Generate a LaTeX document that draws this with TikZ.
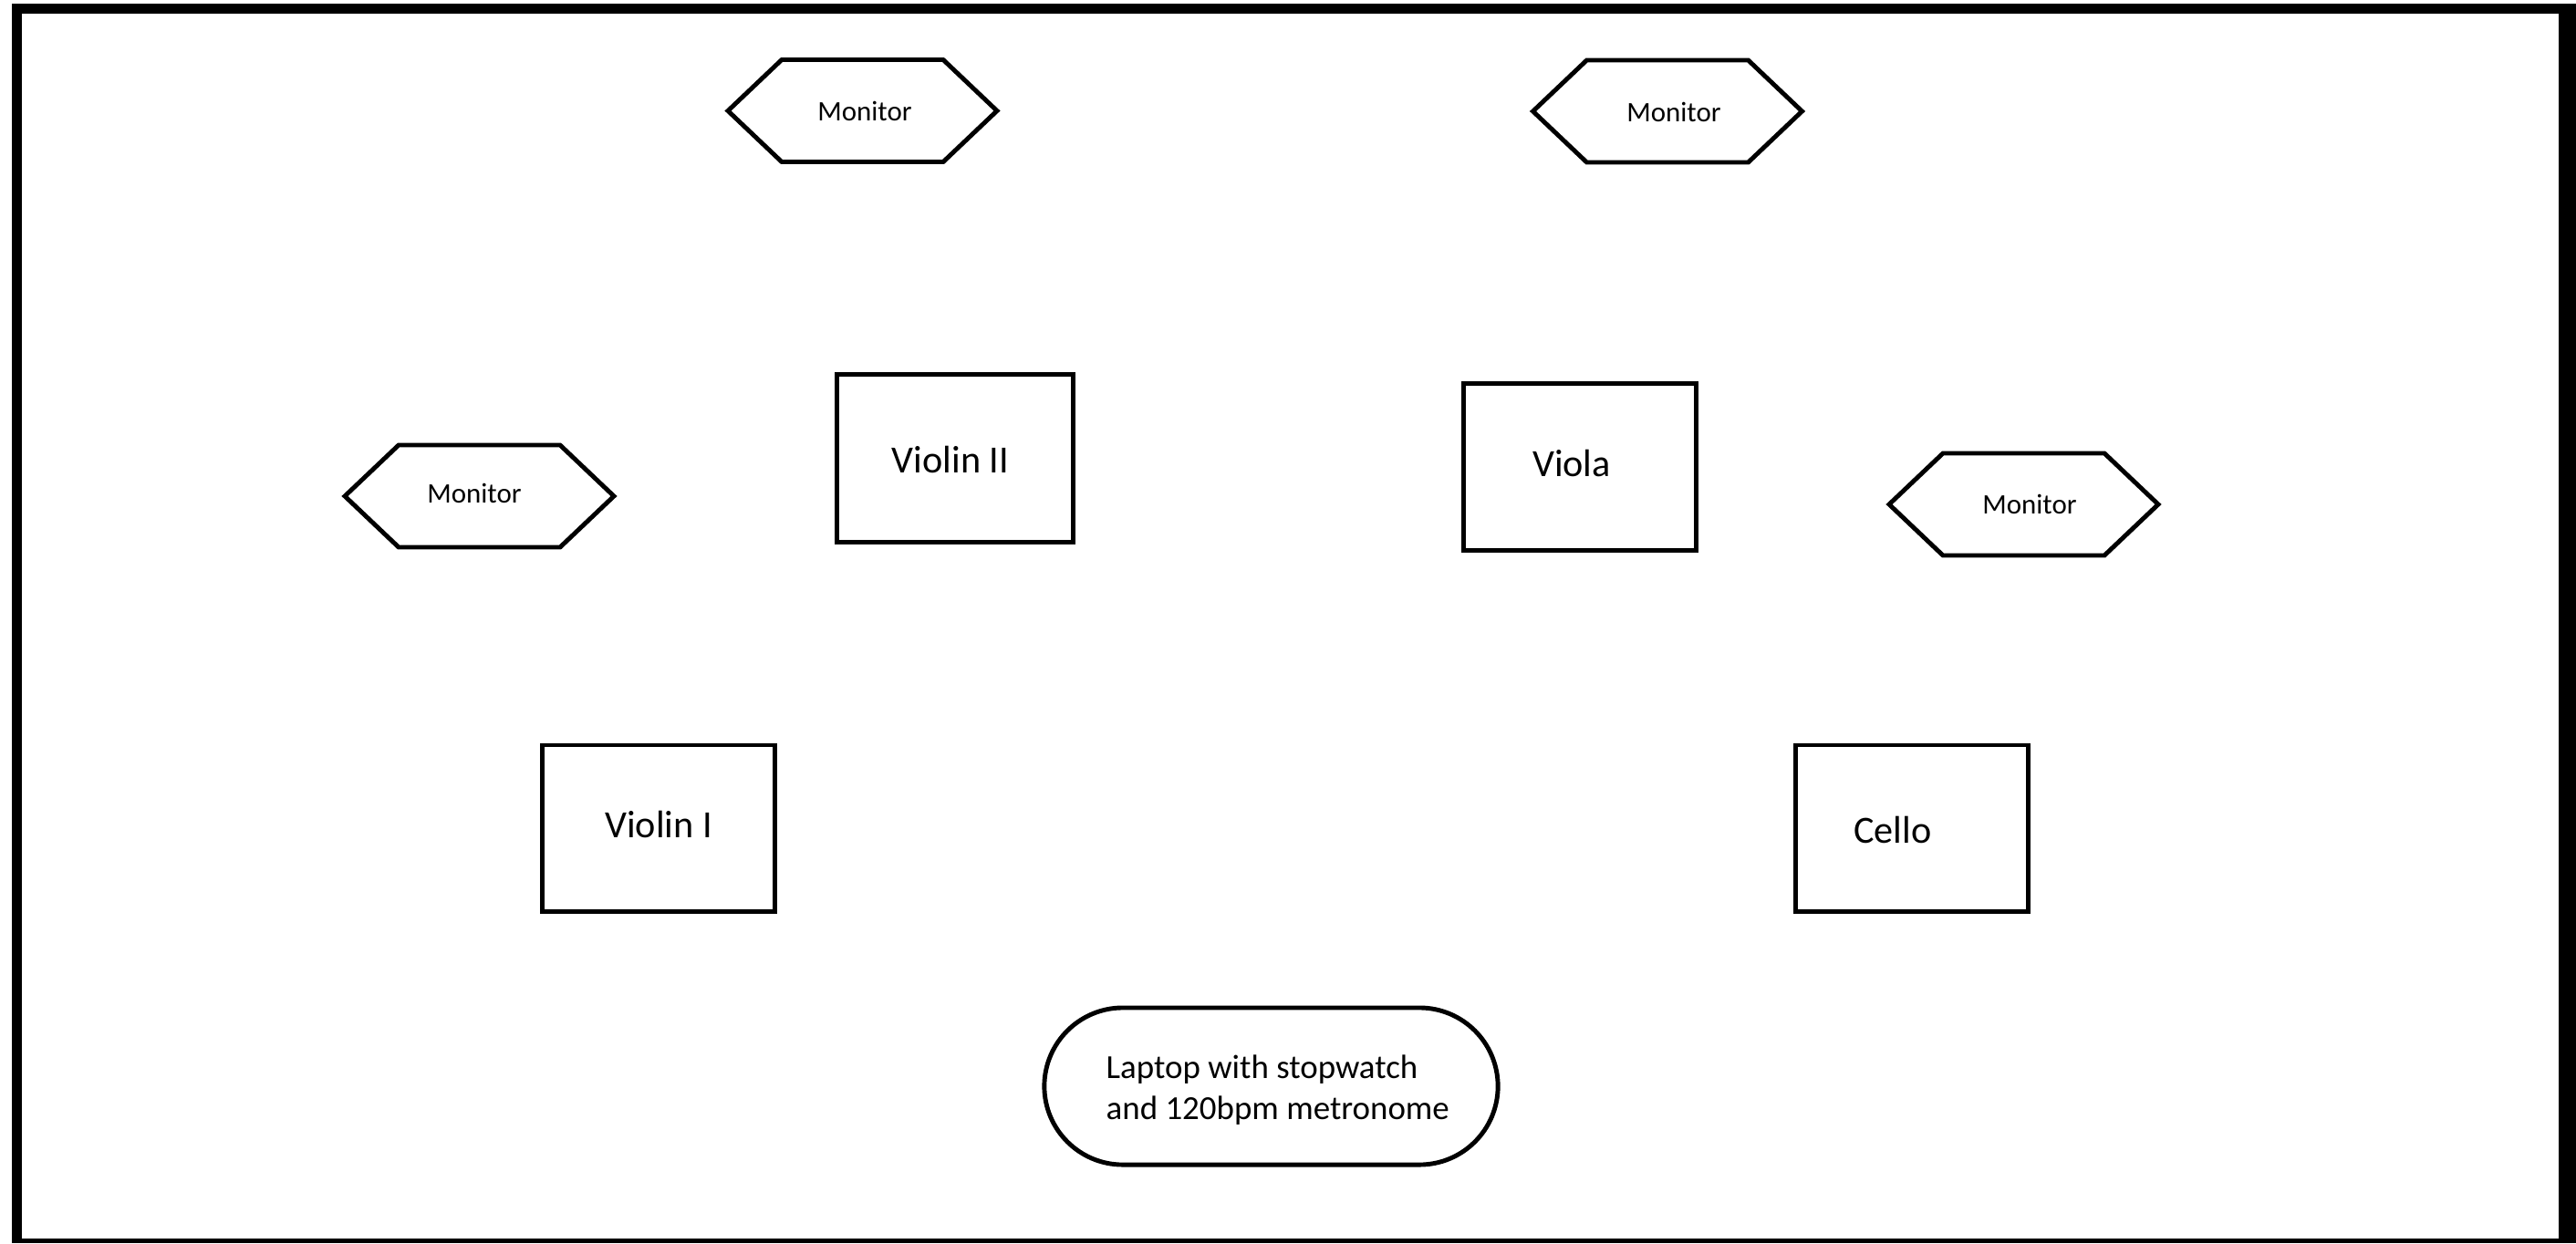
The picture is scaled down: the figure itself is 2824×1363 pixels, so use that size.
\documentclass[tikz,border=0pt]{standalone}
\usepackage{fontspec}
\setmainfont{Carlito}
\newcommand{\monhex}[2]{%
  \draw[outl] (#1-147.5,#2) -- (#1-88.5,#2-56) -- (#1+88.5,#2-56) -- (#1+147.5,#2) -- (#1+88.5,#2+56) -- (#1-88.5,#2+56) -- cycle;}
\begin{document}
\begin{tikzpicture}[x=0.01cm,y=-0.01cm,
  outl/.style={draw=black,line width=1.4pt,line join=miter},
  instr/.style={inner sep=0pt,anchor=base,font=\fontsize{12}{14}\selectfont},
  montext/.style={inner sep=0pt,anchor=base,font=\fontsize{8.8}{10.5}\selectfont},
  laptext/.style={inner sep=0pt,anchor=base west,align=left,font=\fontsize{10.5}{12.8}\selectfont}]
\useasboundingbox (0,0) rectangle (2824,1363);
\fill[white] (0,0) rectangle (2824,1363);
% outer frame
\fill[black] (13,4) rectangle (2824,1363);
\fill[white] (24,15) rectangle (2805,1358);
% monitors (hexagons)
\monhex{945.5}{121.5}
\node[montext] (mon1) at (948,132) {Monitor};
\monhex{1828}{122}
\node[montext] (mon2) at (1835,133) {Monitor};
\monhex{525.5}{544}
\node[montext] (mon3) at (520,551) {Monitor};
\monhex{2218.5}{553}
\node[montext] (mon4) at (2225,563) {Monitor};
% instrument boxes
\node[outl,rectangle,minimum width=2.58cm,minimum height=1.83cm,inner sep=0pt] (vln2box) at (1047,502.5) {};
\node[instr] (vln2) at (1042,518) {Violin II};
\node[outl,rectangle,minimum width=2.54cm,minimum height=1.82cm,inner sep=0pt] (vlabox) at (1732,512) {};
\node[instr] (vla) at (1723,522) {Viola};
\node[outl,rectangle,minimum width=2.54cm,minimum height=1.82cm,inner sep=0pt] (vln1box) at (722,908) {};
\node[instr] (vln1) at (722,918) {Violin I};
\node[outl,rectangle,minimum width=2.54cm,minimum height=1.82cm,inner sep=0pt] (vcbox) at (2096,908) {};
\node[instr] (vc) at (2075,924) {Cello};
% laptop
\node[outl,rectangle,rounded corners=0.86cm,minimum width=4.97cm,minimum height=1.72cm,inner sep=0pt] (lapbox) at (1393.5,1191) {};
\node[laptext] (lap) at (1212,1227) {Laptop with stopwatch\\and 120bpm metronome};
\end{tikzpicture}
\end{document}
